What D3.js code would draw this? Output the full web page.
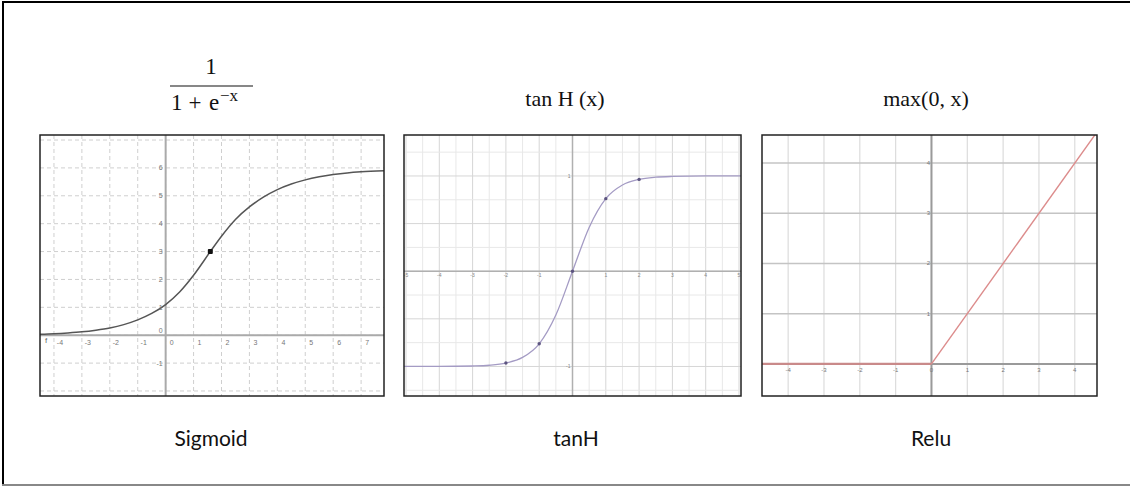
<!DOCTYPE html>
<html><head><meta charset="utf-8">
<script src="https://cdn.jsdelivr.net/npm/d3@7"></script>
<style>html,body{margin:0;padding:0;background:#fff;}svg{display:block;}</style>
</head><body>
<svg id="c" width="1130" height="486"></svg>
<script>
// ---- data ----
const sigmoidX = [-4.5,-4,-3.5,-3,-2.5,-2,-1.5,-1,-0.5,0,0.5,1,1.6,2,2.5,3,3.5,4,4.5,5,5.5,6,6.5,7,7.82];
const sigmoidY = [0.03,0.05,0.08,0.12,0.18,0.26,0.38,0.55,0.78,1.1,1.55,2.15,3.0,3.55,4.15,4.6,4.95,5.22,5.42,5.57,5.68,5.76,5.82,5.86,5.9];
const sigmoidMarker = [1.6, 3.0];
const tanhX = [-5.06,-4,-3,-2.5,-2,-1.5,-1,-0.5,0,0.5,1,1.5,2,2.5,3,4,5.06];
const tanhY = [-1,-1,-0.995,-0.987,-0.964,-0.905,-0.762,-0.46,0,0.46,0.762,0.905,0.964,0.987,0.995,1,1];
const tanhMarkers = [-2,-1,0,1,2];
const reluX = [-4.73, 0, 4.7];
const reluY = [0, 0, 4.7];
const sigXTicks = [-4,-3,-2,-1,0,1,2,3,4,5,6,7];
const sigYTicks = [-1,0,1,2,3,4,5,6];
const tanhXTicks = [-5,-4,-3,-2,-1,1,2,3,4,5];
const tanhYTicks = [-1,1];
const reluXTicks = [-4,-3,-2,-1,0,1,2,3,4];
const reluYTicks = [1,2,3,4];
const titles = ["tan H (x)", "max(0, x)"];
const names = ["Sigmoid", "tanH", "Relu"];

const svg = d3.select("#c");
// outer frame
svg.append("line").attr("x1",2).attr("x2",1130).attr("y1",2).attr("y2",2).attr("stroke","#000").attr("stroke-width",2);
svg.append("line").attr("x1",3).attr("x2",3).attr("y1",2).attr("y2",486).attr("stroke","#000").attr("stroke-width",2);
svg.append("line").attr("x1",2).attr("x2",1130).attr("y1",485).attr("y2",485).attr("stroke","#888").attr("stroke-width",2);

function panel(id, x0, x1, y0, y1, xd, yd){
  const g = svg.append("g");
  g.append("clipPath").attr("id",id).append("rect").attr("x",x0).attr("y",y0).attr("width",x1-x0).attr("height",y1-y0);
  const inner = g.append("g").attr("clip-path",`url(#${id})`);
  const x = d3.scaleLinear().domain(xd).range([x0,x1]);
  const y = d3.scaleLinear().domain(yd).range([y1,y0]);
  return {g, inner, x, y, x0, x1, y0, y1};
}
function frame(p){
  p.g.append("rect").attr("x",p.x0).attr("y",p.y0).attr("width",p.x1-p.x0).attr("height",p.y1-p.y0)
    .attr("fill","none").attr("stroke","#222").attr("stroke-width",1.5);
}
const tickFont = "Liberation Sans, Arial, sans-serif";

// ---------- Panel 1: sigmoid ----------
{
  const p = panel("cp1", 40, 384, 135, 396, [-4.5, 7.82], [-2.18, 7.18]);
  const gx = d3.range(-4, 8, 1), gy = d3.range(-2, 8, 1);
  p.inner.selectAll(".vg").data(gx).join("line").attr("x1",d=>p.x(d)).attr("x2",d=>p.x(d)).attr("y1",p.y0).attr("y2",p.y1)
    .attr("stroke","#cfcfcf").attr("stroke-dasharray","4,3");
  p.inner.selectAll(".hg").data(gy).join("line").attr("y1",d=>p.y(d)).attr("y2",d=>p.y(d)).attr("x1",p.x0).attr("x2",p.x1)
    .attr("stroke","#cfcfcf").attr("stroke-dasharray","4,3");
  p.inner.append("line").attr("x1",p.x0).attr("x2",p.x1).attr("y1",p.y(0)).attr("y2",p.y(0)).attr("stroke","#aaa").attr("stroke-width",2);
  p.inner.append("line").attr("x1",p.x(0)).attr("x2",p.x(0)).attr("y1",p.y0).attr("y2",p.y1).attr("stroke","#aaa").attr("stroke-width",2);
  p.g.selectAll(".xl").data(sigXTicks).join("text").attr("x",d=>p.x(d)+6).attr("y",p.y(0)+10)
    .attr("text-anchor","middle").attr("font-family",tickFont).attr("font-size",7).attr("fill","#777").text(d=>d);
  p.g.selectAll(".yl").data(sigYTicks.filter(d=>d!==0)).join("text").attr("x",p.x(0)-3).attr("y",d=>p.y(d)+2.5)
    .attr("text-anchor","end").attr("font-family",tickFont).attr("font-size",7).attr("fill","#777").text(d=>d);
  p.g.append("text").attr("x",p.x(0)-3).attr("y",p.y(0)-2).attr("text-anchor","end").attr("font-family",tickFont).attr("font-size",7).attr("fill","#777").text("0");
  p.g.append("text").attr("x",p.x0+5).attr("y",p.y(0)+8).attr("font-family",tickFont).attr("font-size",8).attr("fill","#666").text("f");
  const line = d3.line().x(d=>p.x(d[0])).y(d=>p.y(d[1])).curve(d3.curveMonotoneX);
  p.inner.append("path").attr("d",line(d3.zip(sigmoidX,sigmoidY))).attr("fill","none").attr("stroke","#555").attr("stroke-width",1.5);
  p.inner.append("rect").attr("x",p.x(sigmoidMarker[0])-2.5).attr("y",p.y(sigmoidMarker[1])-2.5).attr("width",5).attr("height",5).attr("rx",1).attr("fill","#111");
  frame(p);
}

// ---------- Panel 2: tanh ----------
{
  const p = panel("cp2", 404, 741, 135, 396, [-5.06, 5.06], [-1.31, 1.43]);
  const gx = d3.range(-10, 11).map(d=>d/2), gy = d3.range(-6, 7).map(d=>d/4);
  p.inner.selectAll(".vg").data(gx).join("line").attr("x1",d=>p.x(d)).attr("x2",d=>p.x(d)).attr("y1",p.y0).attr("y2",p.y1)
    .attr("stroke",d=>Number.isInteger(d)?"#d6d6d6":"#e8e8e8").attr("stroke-width",1);
  p.inner.selectAll(".hg").data(gy).join("line").attr("y1",d=>p.y(d)).attr("y2",d=>p.y(d)).attr("x1",p.x0).attr("x2",p.x1)
    .attr("stroke",d=>Number.isInteger(d*2)?"#d6d6d6":"#e8e8e8").attr("stroke-width",1);
  p.inner.append("line").attr("x1",p.x0).attr("x2",p.x1).attr("y1",p.y(0)).attr("y2",p.y(0)).attr("stroke","#b0b0b0").attr("stroke-width",1.5);
  p.inner.append("line").attr("x1",p.x(0)).attr("x2",p.x(0)).attr("y1",p.y0).attr("y2",p.y1).attr("stroke","#b0b0b0").attr("stroke-width",1.5);
  p.g.selectAll(".xl").data(tanhXTicks).join("text").attr("x",d=>p.x(d)).attr("y",p.y(0)+6)
    .attr("text-anchor","middle").attr("font-family",tickFont).attr("font-size",5).attr("fill","#888").text(d=>d);
  p.g.selectAll(".yl").data(tanhYTicks).join("text").attr("x",p.x(0)-2).attr("y",d=>p.y(d)+2)
    .attr("text-anchor","end").attr("font-family",tickFont).attr("font-size",5).attr("fill","#888").text(d=>d);
  const line = d3.line().x(d=>p.x(d[0])).y(d=>p.y(d[1])).curve(d3.curveMonotoneX);
  p.inner.append("path").attr("d",line(d3.zip(tanhX,tanhY))).attr("fill","none").attr("stroke","#a49bc4").attr("stroke-width",1.3);
  p.inner.selectAll(".pt").data(tanhMarkers).join("circle").attr("cx",d=>p.x(d)).attr("cy",d=>p.y(tanhY[tanhX.indexOf(d)]))
    .attr("r",1.7).attr("fill","#5c5480");
  frame(p);
}

// ---------- Panel 3: relu ----------
{
  const p = panel("cp3", 762, 1097, 135, 396, [-4.73, 4.62], [-0.64, 4.56]);
  const gx = d3.range(-4, 5), gy = d3.range(1, 5);
  p.inner.selectAll(".vg").data(gx).join("line").attr("x1",d=>p.x(d)).attr("x2",d=>p.x(d)).attr("y1",p.y0).attr("y2",p.y1)
    .attr("stroke","#dcdcdc").attr("stroke-width",1.2);
  p.inner.selectAll(".hg").data(gy).join("line").attr("y1",d=>p.y(d)).attr("y2",d=>p.y(d)).attr("x1",p.x0).attr("x2",p.x1)
    .attr("stroke","#c4c4c4").attr("stroke-width",1.5);
  p.inner.append("line").attr("x1",p.x0).attr("x2",p.x1).attr("y1",p.y(0)).attr("y2",p.y(0)).attr("stroke","#9a9a9a").attr("stroke-width",2);
  p.inner.append("line").attr("x1",p.x(0)).attr("x2",p.x(0)).attr("y1",p.y0).attr("y2",p.y1).attr("stroke","#9a9a9a").attr("stroke-width",2);
  p.g.selectAll(".xl").data(reluXTicks).join("text").attr("x",d=>p.x(d)).attr("y",p.y(0)+8)
    .attr("text-anchor","middle").attr("font-family",tickFont).attr("font-size",6).attr("fill","#777").text(d=>d);
  p.g.selectAll(".yl").data(reluYTicks).join("text").attr("x",p.x(0)-1.5).attr("y",d=>p.y(d)+2)
    .attr("text-anchor","end").attr("font-family",tickFont).attr("font-size",6).attr("fill","#777").text(d=>d);
  const pts = d3.zip(reluX, reluY);
  const line = d3.line().x(d=>p.x(d[0])).y(d=>p.y(d[1]));
  p.inner.append("path").attr("d",line(pts.slice(0,2))).attr("fill","none").attr("stroke","#c98a8a").attr("stroke-width",2.2);
  p.inner.append("path").attr("d",line(pts.slice(1))).attr("fill","none").attr("stroke","#dc8c8c").attr("stroke-width",1.4);
  frame(p);
}

// ---------- titles ----------
const serif = "Liberation Serif, 'Times New Roman', serif";
{
  const t = svg.append("g").attr("font-family",serif).attr("fill","#111");
  t.append("text").attr("x",211).attr("y",74).attr("text-anchor","middle").attr("font-size",23).text("1");
  t.append("line").attr("x1",170).attr("x2",253).attr("y1",86).attr("y2",86).attr("stroke","#111").attr("stroke-width",1.2);
  t.append("text").attr("x",171).attr("y",110).attr("font-size",23).text("1");
  t.append("text").attr("x",195).attr("y",110).attr("text-anchor","middle").attr("font-size",23).text("+");
  t.append("text").attr("x",209).attr("y",110).attr("font-size",23).text("e");
  t.append("text").attr("x",220).attr("y",101).attr("font-size",17).text("−x");
  t.append("text").attr("x",565).attr("y",106).attr("text-anchor","middle").attr("font-size",22).text(titles[0]);
  t.append("text").attr("x",926).attr("y",106).attr("text-anchor","middle").attr("font-size",22).text(titles[1]);
}
// ---------- bottom names ----------
const nameX = [211, 576, 931];
svg.selectAll(".nm").data(names).join("text").attr("x",(d,i)=>nameX[i]).attr("y",446).attr("text-anchor","middle")
  .attr("font-family","Lato, 'Open Sans', sans-serif").attr("font-size",21).attr("fill","#111").text(d=>d);
</script>
</body></html>
